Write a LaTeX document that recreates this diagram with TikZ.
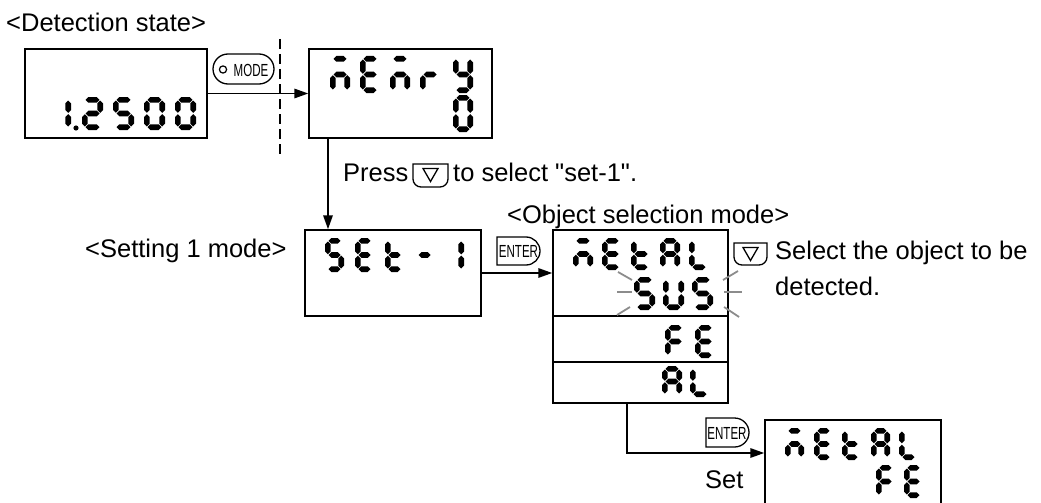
\documentclass[tikz,border=0pt]{standalone}
\usepackage{graphicx}
\usepackage{fontspec}
\setmainfont{Liberation Sans}
\newfontfamily\btnfont{Liberation Sans}
\usetikzlibrary{arrows.meta}

% seven-segment helpers
\def\dgt{5.6}\def\dgg{0.7}\def\dgw{19}\def\dgh{34}
\newcommand\hseg[3]{\fill (#1+\dgg,#3) -- (#1+\dgg+\dgt/2,#3-\dgt/2) -- (#2-\dgg-\dgt/2,#3-\dgt/2) -- (#2-\dgg,#3) -- (#2-\dgg-\dgt/2,#3+\dgt/2) -- (#1+\dgg+\dgt/2,#3+\dgt/2) -- cycle;}
\newcommand\vseg[3]{\fill (#1,#2+\dgg) -- (#1+\dgt/2,#2+\dgg+\dgt/2) -- (#1+\dgt/2,#3-\dgg-\dgt/2) -- (#1,#3-\dgg) -- (#1-\dgt/2,#3-\dgg-\dgt/2) -- (#1-\dgt/2,#2+\dgg+\dgt/2) -- cycle;}
\newcommand\sega{\hseg{\dgL}{\dgR}{\dgT}}
\newcommand\segb{\vseg{\dgR}{\dgT}{\dgM}}
\newcommand\segc{\vseg{\dgR}{\dgM}{\dgB}}
\newcommand\segd{\hseg{\dgL}{\dgR}{\dgB}}
\newcommand\sege{\vseg{\dgL}{\dgM}{\dgB}}
\newcommand\segf{\vseg{\dgL}{\dgT}{\dgM}}
\newcommand\segg{\hseg{\dgL}{\dgR}{\dgM}}
\newcommand\ssdig[3]{%
  \pgfmathsetmacro\dgL{#1+\dgt/2}%
  \pgfmathsetmacro\dgR{#1+\dgw-\dgt/2}%
  \pgfmathsetmacro\dgT{#2+\dgt/2}%
  \pgfmathsetmacro\dgM{#2+\dgh/2}%
  \pgfmathsetmacro\dgB{#2+\dgh-\dgt/2}%
  \foreach \dgs in {#3}{\csname seg\dgs\endcsname}}
\newcommand\btntext[1]{{\btnfont\fontsize{17.5}{17.5}\selectfont\scalebox{0.66}[1]{#1}}}

\tikzset{
  disp/.style={draw, line width=1.5pt, inner sep=0pt},
  arr/.style={line width=1.7pt, -{Triangle[length=14pt,width=9.5pt]}},
  lbl/.style={inner sep=0pt, font=\fontsize{25.5}{30}\selectfont},
  btn/.style={line width=1.3pt},
  spark/.style={draw=black!45, line width=1.8pt},
}

\begin{document}
\begin{tikzpicture}[x=1pt,y=-1pt]
\useasboundingbox (0,0) rectangle (1041,503);

% labels
\node[lbl, anchor=base west] (lbldet) at (6,31.5) {<Detection state>};
\node[lbl, anchor=base west] (lblset) at (85,257) {<Setting 1 mode>};
\node[lbl, anchor=base west] (lblobj) at (507,223) {<Object selection mode>};
\node[lbl, anchor=base west] (press) at (343,181) {Press};
\node[lbl, anchor=base west] (presstxt) at (453,181) {to select \textquotedbl set-1\textquotedbl .};
\node[lbl, anchor=base west] (sel1) at (775,259) {Select the object to be};
\node[lbl, anchor=base west] (sel2) at (775,295) {detected.};
\node[lbl, anchor=base west] (setlbl) at (705,488) {Set};

% displays
\node[disp, minimum width=182pt, minimum height=89pt] (d1) at (116,93.5) {};
\node[disp, minimum width=183pt, minimum height=89pt] (d2) at (400.5,93.5) {};
\node[disp, minimum width=176pt, minimum height=86pt] (d3) at (393,273) {};
\node[disp, minimum width=175pt, minimum height=86pt] (o1) at (640.5,273) {};
\node[disp, minimum width=175pt, minimum height=46pt] (o2) at (640.5,339) {};
\node[disp, minimum width=175pt, minimum height=41pt] (o3) at (640.5,382.5) {};
\node[disp, minimum width=176pt, minimum height=92pt] (d5) at (853,466) {};

% dashed separator
\draw[line width=1.4pt, dash pattern=on 10pt off 5pt] (280,39) -- (280,157);

% MODE button
\node[draw, btn, rounded corners=15pt, minimum width=61pt, minimum height=30pt, inner sep=0pt] (modebtn) at (243.5,69) {};
\draw[line width=1.2pt] (223,69.5) circle[radius=3.6pt];
\node[inner sep=0pt] (modetxt) at (251,70) {\btntext{MODE}};

% ENTER buttons
\draw[btn] (497,237) -- (526,237) arc[start angle=-90, end angle=90, radius=14] -- (497,265) -- cycle;
\node[inner sep=0pt] (enter1) at (518.5,251) {\btntext{ENTER}};
\draw[btn] (706,418) -- (734.5,418) arc[start angle=-90, end angle=90, radius=14.5] -- (706,447) -- cycle;
\node[inner sep=0pt] (enter2) at (727,433) {\btntext{ENTER}};

% down buttons
\draw[btn] (413,164) -- (448,164) -- (448,179) arc[start angle=0, end angle=90, radius=8] -- (421,187) arc[start angle=90, end angle=180, radius=8] -- cycle;
\draw[line width=1.3pt, line join=miter] (423,168.5) -- (438,168.5) -- (430.5,181.5) -- cycle;
\draw[btn] (734,243) -- (767,243) -- (767,257) arc[start angle=0, end angle=90, radius=8] -- (742,265) arc[start angle=90, end angle=180, radius=8] -- cycle;
\draw[line width=1.3pt, line join=miter] (743,247.5) -- (758,247.5) -- (750.5,260.5) -- cycle;

% connectors
\coordinate (vx) at (328,0);
\coordinate (vx2) at (627,0);
\coordinate (hy) at (0,453);
\draw[arr] (d1.east) -- (d2.west);
\draw[arr] (d2.south -| vx) -- (d3.north -| vx);
\draw[arr] (d3.east) -- (o1.west);
\draw[arr] (o3.south -| vx2) |- (d5.west |- hy);

% sparkle lines
\draw[spark] (618,272) -- (632,280);
\draw[spark] (617,292) -- (632,292);
\draw[spark] (617,315) -- (630,307);
\draw[spark] (723,280) -- (738,271);
\draw[spark] (724,292) -- (742,292);
\draw[spark] (724,307) -- (739,317);

% display 1: 1.2500
\def\dgw{21}\def\dgh{33}
\ssdig{50}{97}{b,c}
\fill (76,128) circle[radius=2.6pt];
\ssdig{82}{97}{a,b,g,e,d}
\ssdig{113}{97}{a,f,g,c,d}
\ssdig{144}{97}{a,b,c,d,e,f}
\ssdig{175}{97}{a,b,c,d,e,f}

% display 2: MEMORY / 0
\def\dgw{20}\def\dgh{37}
\ssdig{330}{56}{a,e,g,c}
\ssdig{360}{56}{a,f,g,e,d}
\ssdig{390}{56}{a,e,g,c}
\ssdig{420}{56}{e,g}
\ssdig{453}{56}{f,b,g,c,d}
\ssdig{453}{95}{a,b,c,d,e,f}

% display 3: SET-1
\def\dgw{19}\def\dgh{34}
\ssdig{325}{238}{a,f,g,c,d}
\ssdig{355}{238}{a,f,g,e,d}
\ssdig{385}{238}{f,e,d,g}
\ssdig{415}{238}{g}
\ssdig{445}{238}{b,c}

% object selection
\def\dgw{20}\def\dgh{32}
\ssdig{573}{238}{a,e,g,c}
\ssdig{602}{238}{a,f,g,e,d}
\ssdig{631}{238}{f,e,d,g}
\ssdig{660}{238}{a,b,c,e,f,g}
\ssdig{689}{238}{f,e,d}
\def\dgw{21}\def\dgh{33}
\ssdig{634}{277}{a,f,g,c,d}
\ssdig{663}{277}{b,c,d,e,f}
\ssdig{692}{277}{a,f,g,c,d}
\def\dgw{20}\def\dgh{33}
\ssdig{665}{325}{a,f,g,e}
\ssdig{695}{325}{a,f,g,e,d}
\def\dgw{20}\def\dgh{31}
\ssdig{662}{366}{a,b,c,e,f,g}
\ssdig{690}{366}{f,e,d}

% display 5: METAL / FE
\def\dgw{19}\def\dgh{32}
\ssdig{785}{428}{a,e,g,c}
\ssdig{814}{428}{a,f,g,e,d}
\ssdig{842}{428}{f,e,d,g}
\ssdig{871}{428}{a,b,c,e,f,g}
\ssdig{899}{428}{f,e,d}
\def\dgw{19}\def\dgh{33}
\ssdig{876}{465}{a,f,g,e}
\ssdig{904}{465}{a,f,g,e,d}
\end{tikzpicture}
\end{document}
